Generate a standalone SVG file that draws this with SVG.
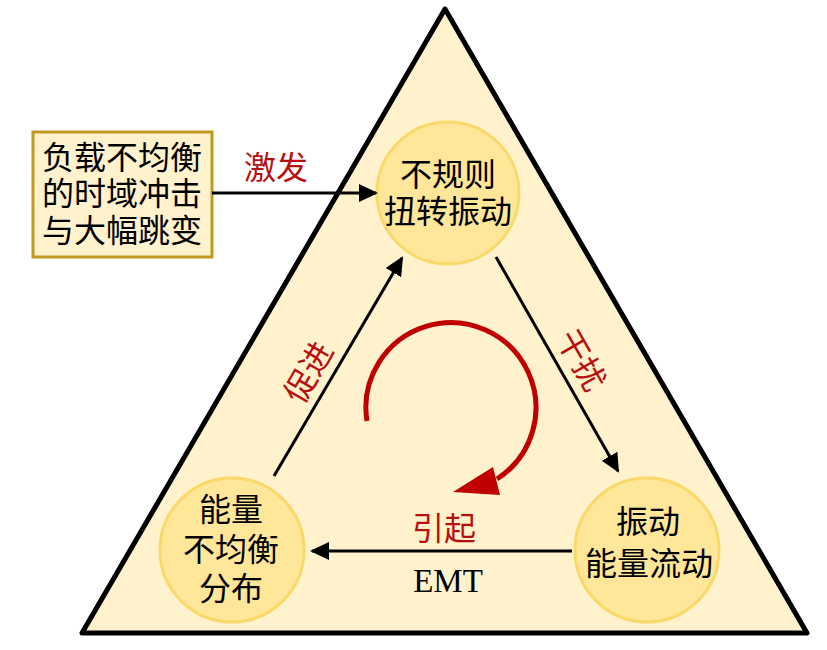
<svg xmlns="http://www.w3.org/2000/svg" width="827" height="650" viewBox="0 0 827 650">
  <style>
    .cjk { font-family: "Liberation Serif", "Noto Sans CJK SC", serif; font-size: 32px; fill: #000; text-anchor: middle; }
    .red { fill: #B80F0F; }
    .node { fill: #FFE699; stroke: #FBD86A; stroke-width: 3; }
    .conn { stroke: #000; stroke-width: 3; fill: none; marker-end: url(#ah); }
  </style>
  <defs>
    <marker id="ah" markerUnits="userSpaceOnUse" markerWidth="20" markerHeight="20" refX="17" refY="9" orient="auto">
      <path d="M0,0 L19,9 L0,18 z" fill="#000"/>
    </marker>
  </defs>
  <rect width="827" height="650" fill="#fff"/>
  <g id="triangle">
    <polygon points="445,9 807,633 82,633" fill="#FFF2CC" stroke="#000" stroke-width="5" stroke-linejoin="round"/>
  </g>
  <g id="source">
    <rect x="33" y="132" width="179" height="125" fill="#FFF2CC" stroke="#C09A23" stroke-width="3"/>
    <text class="cjk" x="122" y="169">负载不均衡</text>
    <text class="cjk" x="122" y="205">的时域冲击</text>
    <text class="cjk" x="122" y="242">与大幅跳变</text>
  </g>
  <g id="n-top">
    <circle class="node" cx="448" cy="193" r="71"/>
    <text class="cjk" x="448" y="186">不规则</text>
    <text class="cjk" x="448" y="223">扭转振动</text>
  </g>
  <g id="n-left">
    <circle class="node" cx="232" cy="550" r="72"/>
    <text class="cjk" x="231" y="521">能量</text>
    <text class="cjk" x="231" y="561">不均衡</text>
    <text class="cjk" x="231" y="600">分布</text>
  </g>
  <g id="n-right">
    <circle class="node" cx="647" cy="550" r="72"/>
    <text class="cjk" x="648" y="533">振动</text>
    <text class="cjk" x="649" y="575">能量流动</text>
  </g>
  <g id="connectors">
    <line class="conn" x1="212" y1="193" x2="376" y2="193"/>
    <line class="conn" x1="274" y1="476" x2="402" y2="258"/>
    <line class="conn" x1="496" y1="257" x2="618" y2="471"/>
    <line class="conn" x1="572" y1="551" x2="312" y2="551"/>
    <path d="M367,421 A85,85 0 1 1 497,479" fill="none" stroke="#C00000" stroke-width="5"/>
    <polygon points="453,492 493,467 500,495" fill="#C00000"/>
  </g>
  <g id="labels">
    <text class="cjk red" x="276" y="179">激发</text>
    <text class="cjk red" transform="translate(308,372) rotate(-59.6)" x="0" y="12">促进</text>
    <text class="cjk red" transform="translate(582,360) rotate(60)" x="0" y="12">干扰</text>
    <text class="cjk red" x="444" y="540">引起</text>
    <text x="448" y="592" font-family="Liberation Serif, serif" font-size="33" text-anchor="middle" fill="#000">EMT</text>
  </g>
</svg>
